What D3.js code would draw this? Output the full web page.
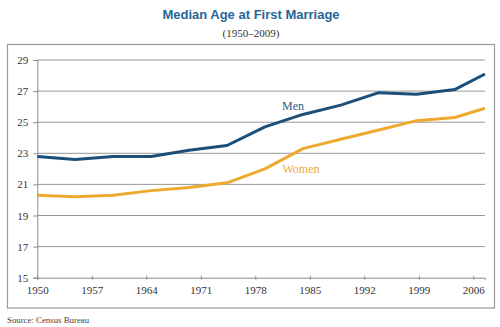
<!DOCTYPE html>
<html>
<head>
<meta charset="utf-8">
<script src="https://cdn.jsdelivr.net/npm/d3@7"></script>
<style>
  body { margin: 0; background: #fff; }
  svg { display: block; }
</style>
</head>
<body>
<div id="chart"></div>
<script>
// Median age at first marriage, Census Bureau
const years = [1950, 1955, 1960, 1965, 1970, 1975, 1980, 1985, 1990, 1995, 2000, 2005, 2009];
const men   = [22.8, 22.6, 22.8, 22.8, 23.2, 23.5, 24.7, 25.5, 26.1, 26.9, 26.8, 27.1, 28.1];
const women = [20.3, 20.2, 20.3, 20.6, 20.8, 21.1, 22.0, 23.3, 23.9, 24.5, 25.1, 25.3, 25.9];
const xTickLabels = [1950, 1957, 1964, 1971, 1978, 1985, 1992, 1999, 2006];
const yTickLabels = [15, 17, 19, 21, 23, 25, 27, 29];

const width = 500, height = 327;
const margin = {top: 60, right: 15, bottom: 49.3, left: 37.3};

const svg = d3.select("#chart").append("svg")
   .attr("width", width)
   .attr("height", height);

// frame round the plot
svg.append("rect")
   .attr("x", 7.5).attr("y", 44.5)
   .attr("width", 487).attr("height", 263.5)
   .attr("fill", "none")
   .attr("stroke", "#9a9a9a")
   .attr("stroke-width", 1.2);

// Title and subtitle
svg.append("text")
   .attr("x", 251).attr("y", 19)
   .attr("text-anchor", "middle")
   .style("font-family", "'Liberation Sans', Arial, sans-serif")
   .style("font-weight", "bold")
   .style("font-size", "13px")
   .attr("fill", "#2a6596")
   .text("Median Age at First Marriage");

svg.append("text")
   .attr("x", 251).attr("y", 37)
   .attr("text-anchor", "middle")
   .style("font-family", "'Liberation Serif', 'Times New Roman', serif")
   .style("font-size", "11px")
   .attr("fill", "#333")
   .text("(1950\u20132009)");

const x0 = margin.left, x1 = width - margin.right;
const y0 = height - margin.bottom, y1 = margin.top;

// data scale (years) and the label scale used by the category axis
const x = d3.scaleLinear().domain([1950, 2009]).range([x0, x1]);
const xLabel = d3.scaleLinear().domain([1950, 2007.5]).range([x0, x1]);
const y = d3.scaleLinear().domain([15, 29]).range([y0, y1]);

// horizontal gridlines
svg.append("g")
   .selectAll("line")
   .data(yTickLabels.filter(d => d > 15))
   .enter()
   .append("line")
   .attr("x1", x0).attr("x2", x1)
   .attr("y1", d => y(d)).attr("y2", d => y(d))
   .attr("stroke", "#8c8c8c")
   .attr("stroke-width", 0.9);

// y axis
const yAxis = svg.append("g")
   .attr("transform", "translate(" + x0 + ",0)")
   .call(d3.axisLeft(y).tickValues(yTickLabels).tickSize(4).tickPadding(5));

// x axis
const xAxis = svg.append("g")
   .attr("transform", "translate(0," + y0 + ")")
   .call(d3.axisBottom(xLabel).tickValues(xTickLabels).tickFormat(d3.format("d")).tickSize(2).tickPadding(7));
xAxis.selectAll(".tick line").attr("y1", -2);

[yAxis, xAxis].forEach(function(g) {
   g.select(".domain").attr("stroke", "#8c8c8c").attr("stroke-width", 1);
   g.selectAll(".tick line").attr("stroke", "#8c8c8c");
   g.selectAll(".tick text")
      .style("font-family", "'Liberation Serif', 'Times New Roman', serif")
      .style("font-size", "11px")
      .attr("fill", "#333");
});

// the two series
const line = d3.line()
   .x((d, i) => x(years[i]))
   .y(d => y(d));

svg.append("path")
   .datum(women)
   .attr("d", line)
   .attr("fill", "none")
   .attr("stroke", "#eeaa2f")
   .attr("stroke-width", 3)
   .attr("stroke-linejoin", "round");

svg.append("path")
   .datum(men)
   .attr("d", line)
   .attr("fill", "none")
   .attr("stroke", "#1c4e7a")
   .attr("stroke-width", 3)
   .attr("stroke-linejoin", "round");

// series labels
svg.append("text")
   .attr("x", 293).attr("y", 110)
   .attr("text-anchor", "middle")
   .style("font-family", "'Liberation Serif', 'Times New Roman', serif")
   .style("font-size", "12px")
   .attr("fill", "#2c5d8a")
   .text("Men");

svg.append("text")
   .attr("x", 301).attr("y", 173)
   .attr("text-anchor", "middle")
   .style("font-family", "'Liberation Serif', 'Times New Roman', serif")
   .style("font-size", "12px")
   .attr("fill", "#eeaa3a")
   .text("Women");

// source note
svg.append("text")
   .attr("x", 7).attr("y", 323)
   .style("font-family", "'Liberation Serif', 'Times New Roman', serif")
   .style("font-size", "8.8px")
   .attr("fill", "#444")
   .text("Source: Census Bureau");
</script>
</body>
</html>
